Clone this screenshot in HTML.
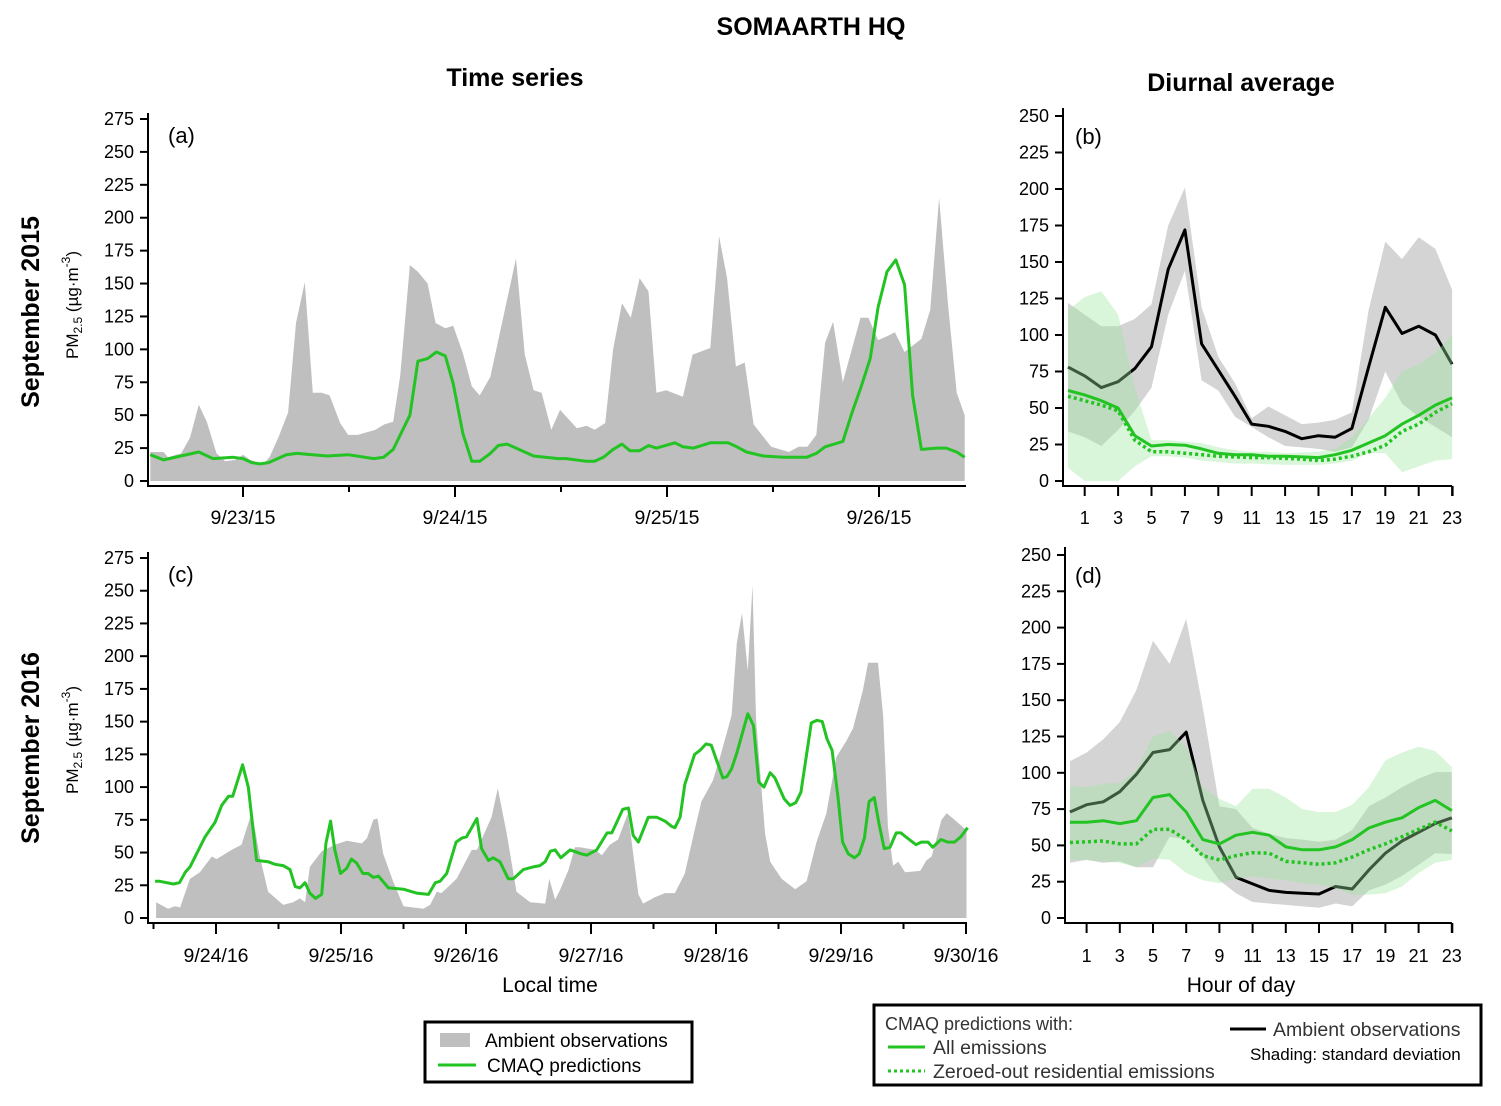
<!DOCTYPE html>
<html><head><meta charset="utf-8"><style>
body{margin:0;background:#fff;}
svg{display:block;font-family:"Liberation Sans",sans-serif;}
</style></head><body>
<svg id="fig" width="1501" height="1106" viewBox="0 0 1501 1106">
<text x="811" y="35" text-anchor="middle" font-size="25" font-weight="bold">SOMAARTH HQ</text>
<text x="515" y="86" text-anchor="middle" font-size="25" font-weight="bold">Time series</text>
<text x="1241" y="91" text-anchor="middle" font-size="25" font-weight="bold">Diurnal average</text>
<text transform="translate(39,312) rotate(-90)" text-anchor="middle" font-size="25" font-weight="bold">September 2015</text>
<text transform="translate(39,748) rotate(-90)" text-anchor="middle" font-size="25" font-weight="bold">September 2016</text>
<text transform="translate(78,305) rotate(-90)" text-anchor="middle" font-size="17">PM<tspan font-size="12" dy="4">2.5</tspan><tspan dy="-4"> (µg·m</tspan><tspan font-size="12" dy="-8">-3</tspan><tspan dy="8">)</tspan></text>
<text transform="translate(78,740) rotate(-90)" text-anchor="middle" font-size="17">PM<tspan font-size="12" dy="4">2.5</tspan><tspan dy="-4"> (µg·m</tspan><tspan font-size="12" dy="-8">-3</tspan><tspan dy="8">)</tspan></text>
<text x="550" y="992" text-anchor="middle" font-size="21">Local time</text>
<text x="1241" y="992" text-anchor="middle" font-size="21">Hour of day</text>
<g>
<rect x="425" y="1022" width="267" height="60" fill="#fff" stroke="#000" stroke-width="3"/>
<rect x="440" y="1033" width="30" height="14" fill="#bfbfbf"/>
<text x="485" y="1047" font-size="19">Ambient observations</text>
<line x1="438" y1="1065" x2="476" y2="1065" stroke="#22c322" stroke-width="3"/>
<text x="487" y="1072" font-size="19">CMAQ predictions</text>
</g>
<g>
<rect x="874" y="1005" width="607" height="80" fill="#fff" stroke="#000" stroke-width="3"/>
<text x="885" y="1030" font-size="18" fill="#333">CMAQ predictions with:</text>
<line x1="888" y1="1047" x2="925" y2="1047" stroke="#22c322" stroke-width="3"/>
<text x="933" y="1054" font-size="19.5" fill="#333">All emissions</text>
<line x1="888" y1="1071" x2="925" y2="1071" stroke="#22c322" stroke-width="3" stroke-dasharray="3,3"/>
<text x="933" y="1078" font-size="19.5" fill="#333">Zeroed-out residential emissions</text>
<line x1="1230" y1="1029" x2="1266" y2="1029" stroke="#000" stroke-width="3"/>
<text x="1273" y="1036" font-size="19.5" fill="#333">Ambient observations</text>
<text x="1250" y="1060" font-size="17">Shading: standard deviation</text>
</g>
</svg>
<script>
// ---- Panel (a): hours from 9/23/15 00:00 ----
const aObsT=[-10.5,-9,-8.5,-7,-6,-5,-4.1,-3,-2,-0.9,0,0.8,2.3,3,4,5.1,6,7,7.9,8.9,9.8,11,11.9,13,15,16,17,17.8,18.9,19.8,20.9,21.8,22.9,23.8,24.9,25.9,26.8,28,30.9,31.9,32.9,33.8,34.9,35.9,37.8,38.9,39.8,41,41.9,42.9,43.9,44.9,45.9,46.8,47.9,49.8,50.9,52.9,53.9,54.8,55.8,56.8,57.8,59.8,60.8,61.8,62.9,63.9,64.9,65.9,66.8,67.9,69.9,70.8,71.9,72.9,73.8,74.9,76.8,77.8,78.8,79.8,80.8,81.7];
const aObsV=[22,22,18,21,33,58,45,21,15,16,20,16,13,18,33,52,120,151,67,67,65,44,35,35,39,43,45,80,164,159,150,120,116,118,97,72,65,79,169,96,69,67,39,54,40,42,39,44,100,135,124,154,144,67,69,64,96,101,186,154,87,90,43,26,24,22,26,26,35,105,121,75,124,124,107,110,113,98,108,130,215,135,67,50];
const aModT=[-10.5,-9,-5,-3.4,-1.1,0,1,1.9,2.9,4.9,6.1,9.5,11.9,14.8,15.9,17,18.9,19.8,20.9,21.9,22.9,23.8,24.9,25.9,26.8,28,28.9,29.9,32.9,35.7,36.6,38.9,39.8,40.8,41.9,42.9,43.8,44.9,45.9,46.8,48.9,49.8,51,52.9,54.9,55.9,57,58.9,61.2,63.8,64.9,65.9,67.9,68.9,70,71,71.9,72.9,73.9,74.9,75.8,76.8,78.5,79.6,80.8,81.7];
const aModV=[20,16,22,17,18,17,14,13,14,20,21,19,20,17,18,24,50,91,93,98,95,74,36,15,15,21,27,28,19,17,17,15,15,18,24,28,23,23,27,25,29,26,25,29,29,26,22,19,18,18,21,26,30,51,72,93,132,159,168,149,65,24,25,25,22,18];
const aTicks=[0,25,50,75,100,125,150,175,200,225,250,275];
const aDates=["9/23/15","9/24/15","9/25/15","9/26/15"];
// ---- Panel (c): hours from 9/24/16 00:00 ----
const cObsT=[-11.5,-10.1,-9.2,-7.9,-6.9,-5,-3.1,-0.8,0.1,3,4.9,6.9,8.4,10,12.9,14.8,16.1,17.1,18,20.3,22.8,25.1,28,29,30.2,31,32.1,34,36,39.8,41.1,42.4,43.3,46.2,49.1,50.1,52.9,54.1,55.8,57.7,60.3,63.2,64,65.1,66,67.7,68.9,69.9,72.8,74.1,75.6,77.2,79.1,81.1,82,84.3,86.2,88.1,90,91.9,93.2,95.4,97,99,100,101,102.1,103,103.7,105.4,106.4,108.6,111.2,113.4,115.3,117.2,119.1,121,122.3,124.2,125.2,127.1,128.1,129,130,131,132.3,135.2,136.4,137.4,139.3,140.3,141.5,144.1];
const cObsV=[12,9,7,9,8,30,35,47,45,52,56,81,47,20,10,12,15,12,39,51,56,59,57,61,75,76,49,28,9,7,10,20,19,30,52,52,77,99,65,20,12,11,30,14,21,37,54,54,52,48,56,60,80,18,11,16,19,19,34,67,89,105,126,155,210,233,189,254,151,65,43,30,22,28,58,80,123,135,145,174,195,195,154,70,40,43,35,36,44,47,75,80,76,67];
const cModT=[-11.7,-10.8,-8.2,-7,-5.9,-5,-2.1,-0.2,1.1,2.4,3.2,5.1,6.2,7.8,10,11.3,12.9,14.2,15.2,16.1,17.1,18,19.1,20.3,21.1,22,22.8,23.9,25.1,26,27,28.2,29.2,30.2,31.2,33.1,36,38.5,40.8,42.1,43,44.3,46.1,47.2,48.1,50.1,51,52.3,53.2,54.5,56.1,57.1,59,60.9,62.2,63.2,64.2,65.1,66.2,68,70.2,71.2,73.1,75.1,76,78.1,79.2,80.1,81.1,83,84.6,86.2,87.5,88.1,89.1,90,91.9,92.9,94.1,95.1,97.3,98.1,99,100,102.1,103.2,104.2,105.2,106.4,107.3,109.1,110.2,111.3,112.3,114.3,115.4,116.4,117.3,118.3,119.4,120.3,121.4,122.6,123.5,124.5,125.4,126.4,127.3,128.3,129.4,130.6,131.5,133.1,134.4,135.4,136.7,137.6,139.2,140.5,141.8,143,144.3];
const cModV=[28,28,26,27,35,39,62,73,86,93,93,117,100,44,43,41,40,37,24,23,27,19,15,18,57,74,52,34,38,45,42,34,34,31,32,23,22,19,18,27,28,34,58,61,62,76,53,44,46,43,30,30,37,39,40,43,51,52,46,52,49,48,52,65,65,83,84,63,58,77,77,74,70,69,77,102,125,128,133,132,107,108,114,126,156,147,104,100,111,107,91,86,88,96,149,151,150,137,128,93,58,49,46,49,61,89,92,72,53,54,65,65,60,56,58,58,54,60,58,58,62,69];
const cTicks=[0,25,50,75,100,125,150,175,200,225,250,275];
const cDates=["9/24/16","9/25/16","9/26/16","9/27/16","9/28/16","9/29/16","9/30/16"];
// ---- Diurnal (b) 2015, hours 0..23 ----
const hours=[0,1,2,3,4,5,6,7,8,9,10,11,12,13,14,15,16,17,18,19,20,21,22,23];
const bObs=[78,72,64,68,77,92,145,172,94,76,58,39,37.5,34,29,31,30,36,78,119,101,106,100,80];
const bObsHi=[122,114,106,106,111,121,175,201,119,85,67,43,51,45,39,40,42,47,117,164,152,167,159,131];
const bObsLo=[34,30,24,35,48,64,114,144,69,62,44,37,30,24,23,22,20,23,42,75,53,44,37,30];
const bAll=[62,59,55,50,31,24,25,24.5,22,19,18,18,17,17,16.5,16,18,21,26,31,39,45,52,57];
const bZero=[58,55,52,48,28,20,20,19,18,17,16.5,16,16,15.5,15,14,15,17,20,24.5,34,39,47,53];
const bAllHi=[117,126,130,114,64,28,28,27,26,23,21,20,20,19,19.5,20,22,30,43,57,75,80,88,100];
const bAllLo=[9,0,0,0,10,17,17,16,14,13,12,12,11.5,11,11,11,12,14,19,19,6,10,14,15];
// ---- Diurnal (d) 2016 ----
const dObs=[73,78,80,87,99,114,116,128,81,49,28,23.5,19,17.6,17,16.5,21.7,20,33,44.6,53,59,65,69];
const dObsHi=[108,114,123,135,157,191,175,206,145,77,75,62,58,55,54,52.5,54,60.6,77,83,90,96,100.5,100.5];
const dObsLo=[38,40,38,39,35,35,56,54,42,26,17,11,10,9,8,7,10,8,19,23,29,36.6,44.6,44];
const dAll=[66,66,67,65,67,83,85,73,54,51,57,59,57,49,47,47,49,54,62,66,69,76,81,74];
const dZero=[52,52.5,53,51,51,61,61,54,43,40,43,45,44.6,39,38,37,38,42,47,51,56,61,66,60];
const dAllHi=[91,90,92.5,93,102,125,129,118,90,82,77,89,89,83,75,73,73,78,90,108.6,114,118,115,104];
const dAllLo=[40,40,39,38,35,41,40,31,26,24,27,28.6,27,26,24,23,20.6,16,16,17,21.7,31,38,40];
const hourLabels=[1,3,5,7,9,11,13,15,17,19,21,23];
const dTicks=[0,25,50,75,100,125,150,175,200,225,250];

const NS="http://www.w3.org/2000/svg";
const svg=document.getElementById('fig');
function el(tag,attrs,parent){const e=document.createElementNS(NS,tag);for(const k in attrs)e.setAttribute(k,attrs[k]);(parent||svg).appendChild(e);return e;}
function pts(xs,ys,fx,fy){return xs.map((x,i)=>fx(x).toFixed(1)+','+fy(ys[i]).toFixed(1)).join(' ');}
function band(xs,hi,lo,fx,fy){const up=xs.map((x,i)=>fx(x).toFixed(1)+','+fy(hi[i]).toFixed(1));const dn=xs.map((x,i)=>fx(x).toFixed(1)+','+fy(lo[i]).toFixed(1)).reverse();return up.concat(dn).join(' ');}

function yAxis(g,axX,fy,ticks,top,bottom,name){
  const ax=el('line',{x1:axX,y1:top,x2:axX,y2:bottom,stroke:'#000','stroke-width':2},g);
  
  
  ticks.forEach(v=>{
    const tk=el('line',{x1:axX-8,y1:fy(v),x2:axX,y2:fy(v),stroke:'#000','stroke-width':2},g);
    
    
    const t=el('text',{x:axX-14,y:fy(v)+6,'text-anchor':'end','font-size':18},g);
    t.textContent=v;
    
    
  });
}

// ===== Time series panels =====
function tsPanel(name,label,fx,fy,obsT,obsV,modT,modV,ticks,dates,axX,axY,xEnd,minorT,labY){
  const g=el('g',{});
  
  
  const poly=[fx(obsT[0]).toFixed(1)+','+fy(0)].concat(obsT.map((t,i)=>fx(t).toFixed(1)+','+fy(obsV[i]).toFixed(1))).concat([fx(obsT[obsT.length-1]).toFixed(1)+','+fy(0)]).join(' ');
  const area=el('polygon',{points:poly,fill:'#bfbfbf'},g);
  
  
  const line=el('polyline',{points:pts(modT,modV,fx,fy),fill:'none',stroke:'#22c322','stroke-width':3,'stroke-linejoin':'round'},g);
  
  
  yAxis(g,axX,fy,ticks,fy(ticks[ticks.length-1])-6,axY,name);
  const xa=el('line',{x1:axX-1,y1:axY,x2:xEnd,y2:axY,stroke:'#000','stroke-width':2},g);
  
  
  minorT.forEach(t=>{
    const tk=el('line',{x1:fx(t),y1:axY,x2:fx(t),y2:axY+6,stroke:'#000','stroke-width':2},g);
    
    
  });
  dates.forEach((d,i)=>{
    const x=fx(i*24);
    const tk=el('line',{x1:x,y1:axY,x2:x,y2:axY+11,stroke:'#000','stroke-width':2},g);
    
    
    const t=el('text',{x:x,y:labY,'text-anchor':'middle','font-size':19.5},g);
    t.textContent=d;
    
    
  });
  const pl=el('text',{x:168,y:fy(ticks[ticks.length-1])+24,'font-size':22},g);
  pl.textContent=label;
  
  
}
const fxa=t=>243+t*212/24, fya=v=>481-v*362/275;
tsPanel('a','(a)',fxa,fya,aObsT,aObsV,aModT,aModV,aTicks,aDates,148,486,966,[12,36,60],524);
const fxc=t=>216+t*125/24, fyc=v=>918-v*360/275;
tsPanel('c','(c)',fxc,fyc,cObsT,cObsV,cModT,cModV,cTicks,cDates,148,923,967,[-12,12,36,60,84,108,132],962);

// ===== Diurnal panels =====
function diPanel(name,label,fx,fy,obs,obsHi,obsLo,all,zero,allHi,allLo,axX,axY,labY){
  const g=el('g',{});
  
  
  const ob=el('polygon',{points:band(hours,obsHi,obsLo,fx,fy),fill:'#d4d4d4'},g);
  
  
  const ol=el('polyline',{points:pts(hours,obs,fx,fy),fill:'none',stroke:'#000','stroke-width':3,'stroke-linejoin':'round'},g);
  
  
  const mb=el('polygon',{points:band(hours,allHi,allLo,fx,fy),fill:'#9ee89e','fill-opacity':0.38},g);
  
  
  const zl=el('polyline',{points:pts(hours,zero,fx,fy),fill:'none',stroke:'#22c322','stroke-width':3.5,'stroke-dasharray':'3,3'},g);
  
  
  const al=el('polyline',{points:pts(hours,all,fx,fy),fill:'none',stroke:'#22c322','stroke-width':3,'stroke-linejoin':'round'},g);
  
  
  yAxis(g,axX,fy,dTicks,fy(250)-8,axY,name);
  const xa=el('line',{x1:axX-1,y1:axY,x2:fx(23),y2:axY,stroke:'#000','stroke-width':2},g);
  
  
  hourLabels.forEach(h=>{
    const x=fx(h);
    const tk=el('line',{x1:x,y1:axY,x2:x,y2:axY+10,stroke:'#000','stroke-width':2},g);
    
    
    const t=el('text',{x:x,y:labY,'text-anchor':'middle','font-size':18},g);
    t.textContent=h;
    
    
  });
  const et=el('line',{x1:fx(23)+0.5,y1:axY,x2:fx(23)+0.5,y2:axY+10,stroke:'#000','stroke-width':2},g);
  
  
  const pl=el('text',{x:1075,y:fy(250)+28,'font-size':22},g);
  pl.textContent=label;
  
  
}
const fxb=h=>1068+h*16.7, fyb=v=>481-v*365/250;
diPanel('b','(b)',fxb,fyb,bObs,bObsHi,bObsLo,bAll,bZero,bAllHi,bAllLo,1063,486,524);
const fxd=h=>1070+h*16.6, fyd=v=>918-v*363/250;
diPanel('d','(d)',fxd,fyd,dObs,dObsHi,dObsLo,dAll,dZero,dAllHi,dAllLo,1065,923,962);
</script>
</body></html>
